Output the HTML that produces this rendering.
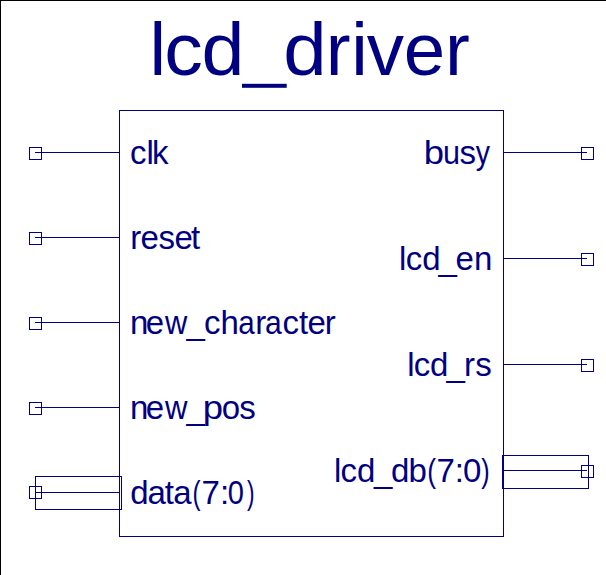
<!DOCTYPE html>
<html><head><meta charset="utf-8">
<style>
html,body{margin:0;padding:0;background:#fff;}
body{width:606px;height:575px;overflow:hidden;position:relative;}
svg{position:absolute;left:0;top:0;display:block;}
text{font-family:"Liberation Sans",sans-serif;fill:#000080;}
</style></head><body>
<svg width="606" height="575" viewBox="0 0 606 575">
<g shape-rendering="crispEdges">
<rect x="0" y="0" width="606" height="1" fill="#000"/>
<rect x="0" y="0" width="1" height="575" fill="#000"/>
<g fill="none" stroke="#000080" stroke-width="1">
<rect x="119.5" y="110.5" width="384" height="426"/>
<rect x="29.5" y="147.5" width="12" height="12"/><path d="M35 152.5H119"/>
<rect x="29.5" y="232.5" width="12" height="12"/><path d="M35 237.5H119"/>
<rect x="29.5" y="317.5" width="12" height="12"/><path d="M35 322.5H119"/>
<rect x="29.5" y="402.5" width="12" height="12"/><path d="M35 407.5H119"/>
<rect x="29.5" y="486.5" width="12" height="12"/><path d="M35 492.5H119"/>
<rect x="35.5" y="476.5" width="86" height="33"/>
<rect x="581.5" y="147.5" width="12" height="12"/><path d="M504 152.5H587"/>
<rect x="581.5" y="253.5" width="12" height="12"/><path d="M504 258.5H587"/>
<rect x="581.5" y="359.5" width="12" height="12"/><path d="M504 364.5H587"/>
<rect x="581.5" y="465.5" width="12" height="12"/><path d="M504 470.5H587"/>
<rect x="502.5" y="455.5" width="86" height="33"/>
</g>
</g>
<rect x="242" y="83.8" width="44.7" height="4" fill="#000080"/>
<g>
<text x="149.48" y="74.6" font-size="74.5">l</text>
<text transform="translate(164.23 74.6) scale(1.034 1)" font-size="74.5">c</text>
<text transform="translate(201.46 74.6) scale(1.036 1)" font-size="74.5">d</text>
<text transform="translate(283.32 74.6) scale(1.048 1)" font-size="74.5">d</text>
<text x="325.75" y="74.6" font-size="74.5">r</text>
<text x="351.22" y="74.6" font-size="74.5">i</text>
<text x="366.75" y="74.6" font-size="74.5">v</text>
<text x="403.84" y="74.6" font-size="74.5">e</text>
<text x="445.05" y="74.6" font-size="74.5">r</text>
<text x="129.90" y="164" font-size="33">c</text>
<text x="146.48" y="164" font-size="33">l</text>
<text x="151.88" y="164" font-size="33">k</text>
<text x="130.21" y="249" font-size="33">r</text>
<text x="140.50" y="249" font-size="33">e</text>
<text x="158.38" y="249" font-size="33">s</text>
<text x="174.60" y="249" font-size="33">e</text>
<text x="191.00" y="249" font-size="33">t</text>
<text x="130.01" y="334" font-size="33">n</text>
<text x="145.80" y="334" font-size="33">e</text>
<text transform="translate(165.05 334) scale(0.935 1)" font-size="33">w</text>
<text x="186.50" y="334" font-size="33">_</text>
<text x="204.00" y="334" font-size="33">c</text>
<text x="220.51" y="334" font-size="33">h</text>
<text transform="translate(238.14 334) scale(0.897 1)" font-size="33">a</text>
<text x="255.31" y="334" font-size="33">r</text>
<text transform="translate(264.92 334) scale(0.914 1)" font-size="33">a</text>
<text x="282.60" y="334" font-size="33">c</text>
<text x="298.90" y="334" font-size="33">t</text>
<text x="307.50" y="334" font-size="33">e</text>
<text x="324.81" y="334" font-size="33">r</text>
<text x="130.01" y="419" font-size="33">n</text>
<text x="145.80" y="419" font-size="33">e</text>
<text transform="translate(165.05 419) scale(0.943 1)" font-size="33">w</text>
<text x="186.50" y="419" font-size="33">_</text>
<text transform="translate(202.65 419) scale(1.105 1)" font-size="33">p</text>
<text x="221.71" y="419" font-size="33">o</text>
<text x="239.28" y="419" font-size="33">s</text>
<text x="130.21" y="504" font-size="33">d</text>
<text x="147.60" y="504" font-size="33">a</text>
<text x="164.70" y="504" font-size="33">t</text>
<text x="173.30" y="504" font-size="33">a</text>
<text transform="translate(192.60 504) scale(0.731 1)" font-size="33">(</text>
<text x="201.51" y="504" font-size="33">7</text>
<text x="220.09" y="504" font-size="33">:</text>
<text transform="translate(227.86 504) scale(0.881 1)" font-size="33">0</text>
<text transform="translate(247.07 504) scale(0.686 1)" font-size="33">)</text>
<text transform="translate(423.65 164) scale(1.105 1)" font-size="33">b</text>
<text transform="translate(443.01 164) scale(0.927 1)" font-size="33">u</text>
<text x="459.38" y="164" font-size="33">s</text>
<text transform="translate(475.83 164) scale(0.862 1)" font-size="33">y</text>
<text x="399.08" y="270" font-size="33">l</text>
<text x="405.70" y="270" font-size="33">c</text>
<text x="422.21" y="270" font-size="33">d</text>
<text x="438.50" y="270" font-size="33">_</text>
<text x="455.40" y="270" font-size="33">e</text>
<text x="473.91" y="270" font-size="33">n</text>
<text x="407.18" y="376" font-size="33">l</text>
<text x="413.70" y="376" font-size="33">c</text>
<text x="430.01" y="376" font-size="33">d</text>
<text x="446.60" y="376" font-size="33">_</text>
<text x="464.11" y="376" font-size="33">r</text>
<text x="475.18" y="376" font-size="33">s</text>
<text x="333.98" y="482" font-size="33">l</text>
<text x="340.60" y="482" font-size="33">c</text>
<text x="357.11" y="482" font-size="33">d</text>
<text x="374.00" y="482" font-size="33">_</text>
<text x="390.91" y="482" font-size="33">d</text>
<text x="408.47" y="482" font-size="33">b</text>
<text transform="translate(427.16 482) scale(0.800 1)" font-size="33">(</text>
<text x="436.51" y="482" font-size="33">7</text>
<text x="454.69" y="482" font-size="33">:</text>
<text x="463.01" y="482" font-size="33">0</text>
<text transform="translate(481.15 482) scale(0.766 1)" font-size="33">)</text>
</g>
</svg>
</body></html>
